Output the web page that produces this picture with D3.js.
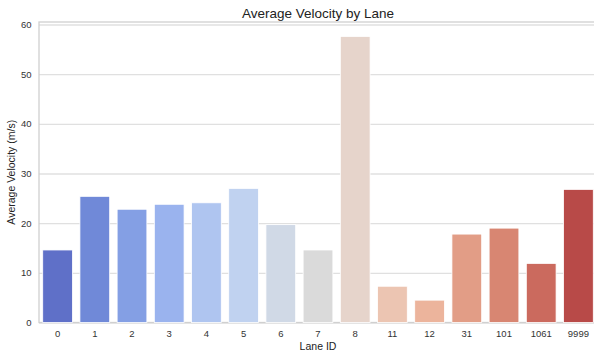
<!DOCTYPE html>
<html><head><meta charset="utf-8">
<script src="https://cdn.jsdelivr.net/npm/d3@7"></script>
<style>body{margin:0;background:#fff}svg{display:block;font-family:"Liberation Sans",Arial,sans-serif}</style>
</head><body><svg id="c" width="594" height="356"></svg>
<script>
const lanes = ["0","1","2","3","4","5","6","7","8","11","12","31","101","1061","9999"];
const velocity = [14.6,25.4,22.8,23.8,24.1,27.0,19.7,14.6,57.6,7.3,4.5,17.8,19.0,11.9,26.8];
const yTicks = [0,10,20,30,40,50,60];
const palette = ["#5f70c8","#7089d8","#849fe4","#9ab3ee","#afc5f0","#c0d2f0","#d0d9e6","#dadada","#e6d4cb","#ecc5b2","#ecb49c","#e29d86","#d88672","#cb6a5e","#b84a48"];

const svg = d3.select("#c");
const L = 39, R = 597, T = 22, B = 322.5;
const x = d3.scaleBand().domain(lanes).range([L, R]).paddingInner(0.2).paddingOuter(0.1);
const y = d3.scaleLinear().domain([0, 60.5]).range([B, T]);

// grid
const yAxis = svg.append("g").attr("transform", `translate(${L},0)`)
  .call(d3.axisLeft(y).tickValues(yTicks).tickSize(-(R - L)).tickPadding(7.5));
yAxis.select(".domain").remove();
yAxis.selectAll(".tick line").attr("stroke", "#e0e0e0").attr("stroke-width", 1.3);
yAxis.selectAll(".tick text").attr("fill", "#333").style("font-size", "9.5px");

// spines
svg.append("rect").attr("x", L).attr("y", T).attr("width", R - L).attr("height", B - T)
  .attr("fill", "none").attr("stroke", "#d0d0d0").attr("stroke-width", 1.3);

// bars
svg.append("g").selectAll("rect").data(lanes).join("rect")
  .attr("x", d => x(d)).attr("width", x.bandwidth())
  .attr("y", (d, i) => y(velocity[i])).attr("height", (d, i) => B - y(velocity[i]))
  .attr("fill", (d, i) => palette[i]).attr("stroke", "#ffffff").attr("stroke-width", 0.8);

// x axis
const xAxis = svg.append("g").attr("transform", `translate(0,${B})`)
  .call(d3.axisBottom(x).tickSize(0).tickPadding(8));
xAxis.select(".domain").remove();
xAxis.selectAll(".tick text").attr("fill", "#333").style("font-size", "9.5px");

svg.append("text").attr("x", (L + R) / 2).attr("y", 18).attr("text-anchor", "middle")
  .attr("fill", "#222").style("font-size", "13.5px").text("Average Velocity by Lane");
svg.append("text").attr("x", (L + R) / 2).attr("y", 350).attr("text-anchor", "middle")
  .attr("fill", "#222").style("font-size", "10.5px").text("Lane ID");
svg.append("text").attr("transform", `translate(15,${(T + B) / 2}) rotate(-90)`).attr("text-anchor", "middle")
  .attr("fill", "#222").style("font-size", "10.5px").text("Average Velocity (m/s)");
</script></body></html>
